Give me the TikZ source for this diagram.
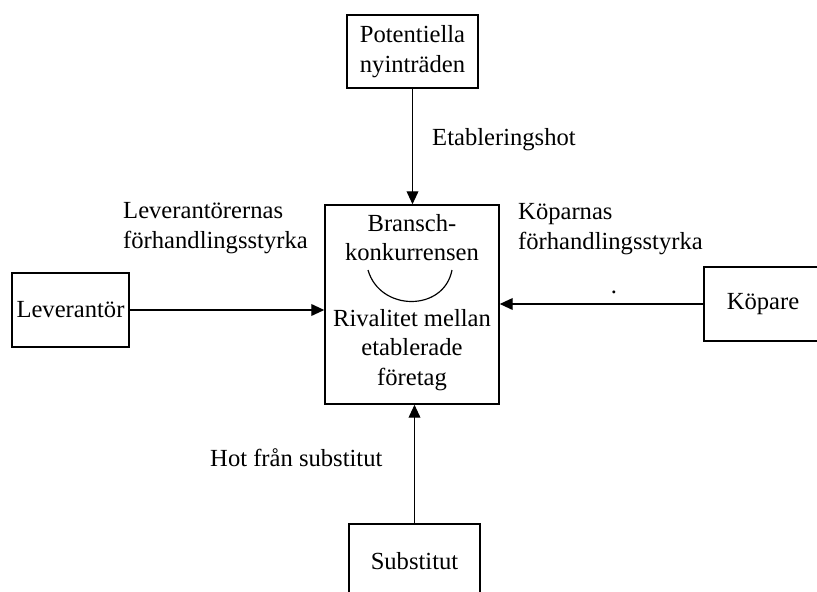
\documentclass[tikz,border=0pt]{standalone}
\usepackage{fontspec}
\setmainfont{Liberation Serif}
\usetikzlibrary{arrows.meta}
\begin{document}
\begin{tikzpicture}[x=0.03cm,y=-0.03cm,
  every node/.style={font=\fontsize{21}{25}\selectfont},
  box/.style={draw,line width=1.3pt,align=center,inner sep=0pt},
  label/.style={anchor=west,align=left,inner sep=0pt},
  every edge/.style={draw,line width=1.1pt,-{Triangle[length=11pt,width=10pt]}}]
\useasboundingbox (0,0) rectangle (817,592);
\node[box,minimum width=5.22cm,minimum height=5.97cm] (konkurrens) at (412,304.5) {};
\node[align=center] (bransch) at (412,237.5) {Bransch-\\konkurrensen};
\node[align=center] (rivalitet) at (412,350) {Rivalitet mellan\\etablerade\\företag};
\draw[line width=1pt] (368,270) .. controls (380,312) and (444,312) .. (452,270);
\node[box,minimum width=3.93cm,minimum height=2.19cm] (potentiella) at (412.5,51.5) {Potentiella\\nyinträden} edge (potentiella.south |- konkurrens.north);
\node[box,minimum width=3.51cm,minimum height=2.22cm] (leverantor) at (70.5,310) {Leverantör} edge (leverantor.east -| konkurrens.west);
\node[box,minimum width=3.54cm,minimum height=2.22cm] (kopare) at (763,304) {Köpare} edge (kopare.west -| konkurrens.east);
\node[box,minimum width=3.93cm,minimum height=2.22cm] (substitut) at (414.5,561) {Substitut} edge (substitut.north |- konkurrens.south);
\node[label] (etablering) at (432,140) {Etableringshot};
\node[label] (levstyrka) at (123,228) {Leverantörernas\\förhandlingsstyrka};
\node[label] (kopstyrka) at (518,229) {Köparnas\\förhandlingsstyrka};
\node[label] (hot) at (210,458) {Hot från substitut};
\node[inner sep=0pt] (prick) at (614,292) {.};
\end{tikzpicture}
\end{document}
